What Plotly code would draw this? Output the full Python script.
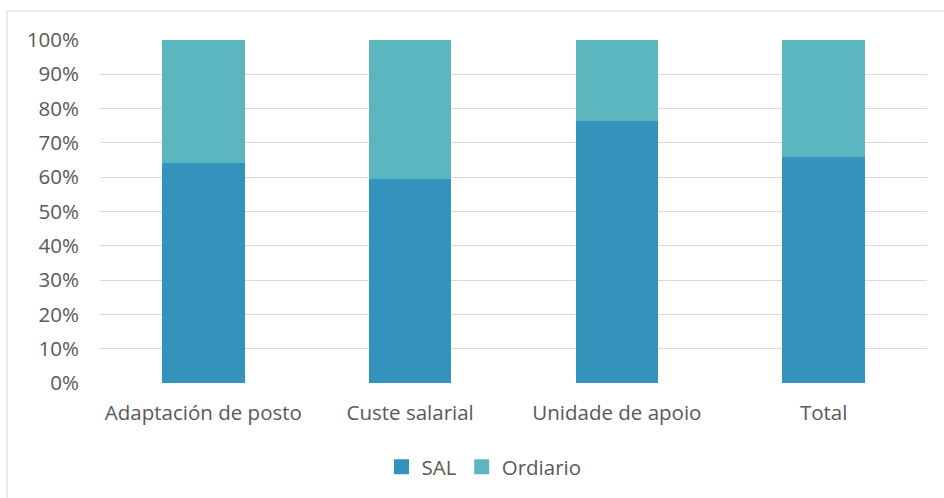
import plotly.graph_objects as go

categories = ["Adaptación de posto", "Custe salarial", "Unidade de apoio", "Total"]
sal = [0.641, 0.595, 0.765, 0.660]
ordiario = [1 - v for v in sal]
y_ticks = [0, 0.1, 0.2, 0.3, 0.4, 0.5, 0.6, 0.7, 0.8, 0.9, 1.0]
y_labels = ["0%", "10%", "20%", "30%", "40%", "50%", "60%", "70%", "80%", "90%", "100%"]

W, H = 944, 498
L, R, T, B = 100, 927, 40, 383
FONT = "Open Sans"
FS = 20.5
TXT = "#595959"
C_SAL = "#3493BA"
C_ORD = "#5BB6BF"

fig = go.Figure()
fig.add_trace(go.Bar(name="SAL", x=categories, y=sal, marker_color=C_SAL,
                     marker_line_width=0, showlegend=False))
fig.add_trace(go.Bar(name="Ordiario", x=categories, y=ordiario, marker_color=C_ORD,
                     marker_line_width=0, showlegend=False))
# legend-only entries with square swatches
fig.add_trace(go.Scatter(name="SAL", x=[None], y=[None], mode="markers",
                         marker=dict(symbol="square", size=15, color=C_SAL)))
fig.add_trace(go.Scatter(name="Ordiario", x=[None], y=[None], mode="markers",
                         marker=dict(symbol="square", size=15, color=C_ORD)))

def px(x):
    return (x - L) / (R - L)

def py(y):
    return (B - y) / (B - T)

fig.update_layout(
    width=W, height=H,
    barmode="stack", bargap=0.6,
    paper_bgcolor="white", plot_bgcolor="white",
    margin=dict(l=L, r=W - R, t=T, b=H - B, autoexpand=False),
    font=dict(family=FONT, size=FS, color=TXT),
    legend=dict(orientation="h", x=px(484), xanchor="center", y=py(467), yanchor="middle",
                font=dict(size=FS, color=TXT), itemwidth=30, traceorder="normal"),
    xaxis=dict(showgrid=False, showline=False, ticks="", ticklabelstandoff=15,
               tickfont=dict(size=FS, color=TXT)),
    yaxis=dict(range=[0, 1], tickvals=y_ticks, ticktext=y_labels, showgrid=True,
               gridcolor="#D9D9D9", gridwidth=1, zeroline=False, showline=False,
               ticks="", ticklabelstandoff=20, tickfont=dict(size=FS, color=TXT)),
    shapes=[
        dict(type="line", xref="paper", yref="paper", x0=px(7), x1=px(944), y0=py(11), y1=py(11),
             line=dict(color="#D9D9D9", width=1)),
        dict(type="line", xref="paper", yref="paper", x0=px(7), x1=px(7), y0=py(11), y1=py(498),
             line=dict(color="#D9D9D9", width=1)),
    ],
)

fig.write_html("out.html", config={"displayModeBar": False},
               post_script="document.body.style.margin='0';document.body.style.padding='0';")
